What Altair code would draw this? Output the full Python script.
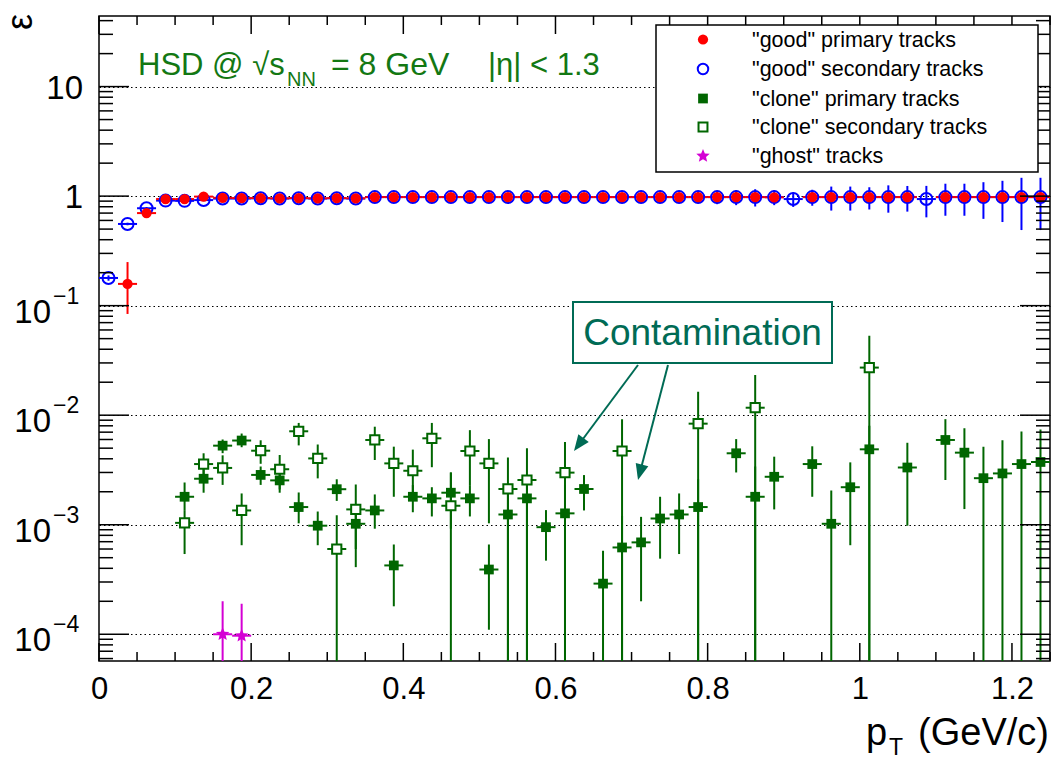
import math
import altair as alt
import pandas as pd

# ---------------- layout ----------------
LEFT, TOP = 99, 16
W, H = 951, 645
RIGHT = 1053 - LEFT - W
BOTTOM = 759 - TOP - H
XMIN, XMAX = 0.0, 1.25
YMIN, YMAX = 5.7e-5, 44.1

FONT = "Liberation Sans"
RED, BLUE, GREEN, MAGENTA = "#ff0000", "#0000ff", "#006600", "#d400d4"
TITLE_GREEN, TEAL = "#137813", "#006b55"

# ---------------- data ----------------
bin_centers = [round(0.0125 + 0.025 * i, 4) for i in range(50)]
half_bin = 0.0125

# "good" primary tracks (red, full circles)
gp_bin = [1, 2, 3, 4, 5, 6, 7, 8, 9, 10, 11, 12, 13, 14, 15, 16, 17, 18, 19, 20, 21, 22, 23, 24,
          25, 26, 27, 28, 29, 30, 31, 32, 33, 34, 35, 37, 38, 39, 40, 41, 42, 44, 45, 46, 47, 48, 49]
gp_val = [0.158, 0.70, 0.94, 0.94, 0.99, 0.965, 0.96, 0.96, 0.955, 0.96, 0.955, 0.96, 0.955, 0.98,
          0.98, 0.98, 0.98, 0.98, 0.98, 0.98, 0.98, 0.98, 0.98, 0.98, 0.98, 0.98, 0.98, 0.98, 0.98,
          0.98, 0.98, 0.98, 0.98, 0.98, 0.975, 0.98, 0.98, 0.98, 0.98, 0.98, 0.98, 0.98, 0.98, 0.98,
          0.98, 0.98, 0.98]
gp_lo = [0.084, 0.66, 0.93, 0.93, 0.98, 0.955, 0.95, 0.95, 0.945, 0.95, 0.945, 0.95, 0.945, 0.97,
         0.97, 0.97, 0.97, 0.97, 0.97, 0.97, 0.97, 0.97, 0.97, 0.97, 0.97, 0.96, 0.96, 0.96, 0.96,
         0.96, 0.95, 0.95, 0.95, 0.95, 0.945, 0.95, 0.95, 0.95, 0.95, 0.94, 0.94, 0.94, 0.94, 0.93,
         0.93, 0.92, 0.92]
gp_hi = [0.25, 0.74, 0.95, 0.95, 1.0, 0.975, 0.97, 0.97, 0.965, 0.97, 0.965, 0.97, 0.965, 0.99,
         0.99, 0.99, 0.99, 0.99, 0.99, 0.99, 0.99, 0.99, 0.99, 0.99, 0.99, 1.0, 1.0, 1.0, 1.0,
         1.0, 1.01, 1.01, 1.01, 1.01, 1.005, 1.01, 1.01, 1.01, 1.01, 1.02, 1.02, 1.02, 1.02, 1.03,
         1.03, 1.04, 1.04]

# "good" secondary tracks (blue, open circles)
gs_bin = list(range(50))
gs_val = [0.179, 0.557, 0.775, 0.91, 0.905, 0.92, 0.95, 0.95, 0.955, 0.95, 0.955, 0.95, 0.955, 0.95,
          0.98, 0.98, 0.98, 0.98, 0.98, 0.98, 0.98, 0.98, 0.98, 0.98, 0.98, 0.98, 0.98, 0.98, 0.98,
          0.98, 0.98, 0.98, 0.98, 0.98, 0.98, 0.98, 0.94, 0.98, 0.98, 0.98, 0.98, 0.98, 0.98, 0.94,
          0.98, 0.98, 0.98, 0.98, 0.98, 0.98]
gs_err = [0.01, 0.015, 0.02, 0.02, 0.02, 0.02, 0.02, 0.02, 0.02, 0.02, 0.02, 0.02, 0.02, 0.02,
          0.02, 0.02, 0.02, 0.025, 0.025, 0.025, 0.03, 0.03, 0.03, 0.035, 0.04, 0.04, 0.05, 0.05,
          0.06, 0.07, 0.09, 0.12, 0.136, 0.153, 0.176, 0.153, 0.143, 0.163, 0.242, 0.242, 0.225,
          0.274, 0.258, 0.30, 0.318, 0.318, 0.36, 0.40, 0.49, 0.49]

# "clone" primary tracks (green, full squares)
cp_bin = [4, 5, 6, 7, 8, 9, 10, 11, 12, 13, 14, 15, 16, 17, 18, 19, 20, 21, 22, 23, 24, 25, 26, 27,
          28, 29, 30, 31, 33, 34, 35, 37, 38, 39, 40, 42, 44, 45, 46, 47, 48, 49]
cp_val = [1.80e-3, 2.63e-3, 5.27e-3, 5.87e-3, 2.85e-3, 2.54e-3, 1.45e-3, 0.98e-3, 2.11e-3, 1.02e-3,
          1.35e-3, 0.425e-3, 1.80e-3, 1.74e-3, 1.96e-3, 1.74e-3, 0.39e-3, 1.24e-3, 1.74e-3, 0.95e-3,
          1.27e-3, 2.12e-3, 0.29e-3, 0.62e-3, 0.69e-3, 1.14e-3, 1.24e-3, 1.45e-3, 4.49e-3, 1.80e-3,
          2.74e-3, 3.58e-3, 1.02e-3, 2.20e-3, 4.88e-3, 3.33e-3, 5.94e-3, 4.55e-3, 2.66e-3, 2.94e-3,
          3.58e-3, 3.74e-3]
cp_lo = [1.36e-3, 1.96e-3, 4.50e-3, 5.10e-3, 2.31e-3, 1.96e-3, 1.03e-3, 0.65e-3, 1.65e-3, 0.60e-3,
         0.92e-3, 0.18e-3, 1.30e-3, 1.19e-3, 0.92e-3, 1.19e-3, 0.11e-3, 0.0, 0.0, 0.47e-3,
         0.0, 1.35e-3, 0.0, 0.0, 0.20e-3, 0.49e-3, 0.54e-3, 0.0, 3.00e-3, 0.0,
         1.38e-3, 1.80e-3, 0.0, 0.65e-3, 0.0, 0.98e-3, 2.56e-3, 1.39e-3, 0.0, 0.0,
         0.0, 0.0]
cp_hi = [2.43e-3, 3.30e-3, 6.00e-3, 6.80e-3, 3.40e-3, 3.10e-3, 1.97e-3, 1.32e-3, 2.60e-3, 1.45e-3,
         1.89e-3, 0.66e-3, 2.30e-3, 2.20e-3, 3.00e-3, 2.30e-3, 0.66e-3, 2.30e-3, 2.50e-3, 1.36e-3,
         2.30e-3, 2.84e-3, 0.58e-3, 1.20e-3, 1.18e-3, 1.80e-3, 1.93e-3, 2.60e-3, 6.05e-3, 3.40e-3,
         4.18e-3, 5.20e-3, 2.05e-3, 3.71e-3, 8.0e-3, 5.60e-3, 9.20e-3, 7.60e-3, 5.16e-3, 5.90e-3,
         7.10e-3, 7.40e-3]

# "clone" secondary tracks (green, open squares)
cs_bin = [4, 5, 6, 7, 8, 9, 10, 11, 12, 13, 14, 15, 16, 17, 18, 19, 20, 21, 22, 24, 27, 31, 34, 40]
cs_val = [1.04e-3, 3.58e-3, 3.30e-3, 1.35e-3, 4.74e-3, 3.21e-3, 7.13e-3, 4.03e-3, 0.60e-3, 1.38e-3,
          5.94e-3, 3.63e-3, 3.11e-3, 6.15e-3, 1.49e-3, 4.71e-3, 3.63e-3, 2.12e-3, 2.56e-3, 2.99e-3,
          4.71e-3, 8.37e-3, 1.17e-2, 2.72e-2]
cs_lo = [0.54e-3, 2.70e-3, 2.31e-3, 0.65e-3, 3.60e-3, 2.10e-3, 5.30e-3, 2.65e-3, 0.0, 0.41e-3,
         3.90e-3, 1.80e-3, 1.80e-3, 3.35e-3, 0.0, 2.30e-3, 1.03e-3, 0.0, 0.0, 0.0,
         0.0, 0.0, 0.0, 0.0]
cs_hi = [1.36e-3, 4.49e-3, 4.30e-3, 1.93e-3, 5.90e-3, 4.33e-3, 8.50e-3, 5.40e-3, 1.22e-3, 2.33e-3,
         7.85e-3, 5.16e-3, 4.85e-3, 8.50e-3, 3.00e-3, 7.30e-3, 6.05e-3, 4.10e-3, 5.00e-3, 5.70e-3,
         9.20e-3, 1.64e-2, 2.33e-2, 5.30e-2]

# "ghost" tracks (magenta stars)
gh_bin = [6, 7]
gh_val = [1.0e-4, 0.97e-4]
gh_lo = [0.0, 0.0]
gh_hi = [2.0e-4, 1.9e-4]

legend_labels = ['"good" primary tracks', '"good" secondary tracks', '"clone" primary tracks',
                 '"clone" secondary tracks', '"ghost" tracks']

x_major = [0.0, 0.2, 0.4, 0.6, 0.8, 1.0, 1.2]
x_minor = [0.05, 0.1, 0.15, 0.25, 0.3, 0.35, 0.45, 0.5, 0.55, 0.65, 0.7, 0.75, 0.85, 0.9, 0.95,
           1.05, 1.1, 1.15, 1.25]
y_major = [1e-4, 1e-3, 1e-2, 1e-1, 1.0, 10.0]
y_minor = [m * 10.0 ** e for e in range(-5, 2) for m in range(2, 10)
           if YMIN < m * 10.0 ** e < YMAX]

# ---------------- helpers ----------------
xs = alt.Scale(domain=[XMIN, XMAX], nice=False, zero=False)
ys = alt.Scale(type="log", domain=[YMIN, YMAX], nice=False)
x_axis = alt.Axis(values=x_major, format="~g", ticks=False, domain=False, grid=False,
                  labelFont=FONT, labelFontSize=31, labelColor="black", labelPadding=13,
                  title=None, labelFlush=False)
y_axis = alt.Axis(values=y_major, ticks=False, domain=False, labels=False, grid=True,
                  gridColor="black", gridDash=[1.5, 3], gridWidth=1.2, title=None)


def X(f):
    return alt.X(f, type="quantitative", scale=xs, axis=x_axis)


def Y(f):
    return alt.Y(f, type="quantitative", scale=ys, axis=y_axis)


def ax(v):
    return v - LEFT


def ay(v):
    return v - TOP


def series_df(bins, val, lo, hi):
    xc = [bin_centers[b] for b in bins]
    return pd.DataFrame({
        "x": xc,
        "xlo": [c - half_bin for c in xc],
        "xhi": [c + half_bin for c in xc],
        "y": val,
        "ylo": [max(v, 1e-7) for v in lo],
        "yhi": hi,
    })


def bars(df, color, width=2.0):
    v = alt.Chart(df).mark_rule(color=color, strokeWidth=width, clip=True).encode(
        x=X("x"), y=Y("ylo"), y2="yhi")
    h = alt.Chart(df).mark_rule(color=color, strokeWidth=width, clip=True).encode(
        x=X("xlo"), x2="xhi", y=Y("y"))
    return [v, h]


star_pts = []
for i in range(10):
    r = 1.0 if i % 2 == 0 else 0.45
    a = math.radians(-90 + 36 * i)
    star_pts.append((r * math.cos(a), r * math.sin(a)))
STAR = "M" + "L".join(f"{px:.3f},{py:.3f}" for px, py in star_pts) + "Z"
ARROW = "M0,-1L-0.65,0.6L0.65,0.6Z"

df_gp = series_df(gp_bin, gp_val, gp_lo, gp_hi)
df_gs = series_df(gs_bin, gs_val, [v - e for v, e in zip(gs_val, gs_err)],
                  [v + e for v, e in zip(gs_val, gs_err)])
df_cp = series_df(cp_bin, cp_val, cp_lo, cp_hi)
df_cs = series_df(cs_bin, cs_val, cs_lo, cs_hi)
df_gh = series_df(gh_bin, gh_val, gh_lo, gh_hi)

layers = []
# error bars
layers += bars(df_cp, GREEN)
layers += bars(df_cs, GREEN)
layers += bars(df_gh, MAGENTA)
layers += bars(df_gs, BLUE)
layers += bars(df_gp, RED)

# markers
layers.append(alt.Chart(df_gs).mark_point(shape="circle", filled=False, color=BLUE, size=144,
                                          strokeWidth=2, opacity=1, clip=True).encode(x=X("x"), y=Y("y")))
layers.append(alt.Chart(df_gp).mark_point(shape="circle", filled=True, color=RED, size=105,
                                          opacity=1, clip=True).encode(x=X("x"), y=Y("y")))
layers.append(alt.Chart(df_cs).mark_point(shape="square", filled=True, fill="white", stroke=GREEN,
                                          strokeWidth=2, size=85, opacity=1, clip=True).encode(x=X("x"), y=Y("y")))
layers.append(alt.Chart(df_cp).mark_point(shape="square", filled=True, color=GREEN, size=95,
                                          opacity=1, clip=True).encode(x=X("x"), y=Y("y")))
layers.append(alt.Chart(df_gh).mark_point(shape=STAR, filled=True, color=MAGENTA, size=200,
                                          opacity=1, clip=True).encode(x=X("x"), y=Y("y")))

# inward ticks (ROOT style) on all four sides
tick_w = 1.5
df_xM = pd.DataFrame({"t": x_major})
df_xm = pd.DataFrame({"t": x_minor})
df_yM = pd.DataFrame({"t": y_major})
df_ym = pd.DataFrame({"t": y_minor})
for dfx, ln in ((df_xM, 18), (df_xm, 9)):
    layers.append(alt.Chart(dfx).mark_rule(color="black", strokeWidth=tick_w).encode(
        x=X("t"), y=alt.value(H), y2=alt.value(H - ln)))
    layers.append(alt.Chart(dfx).mark_rule(color="black", strokeWidth=tick_w).encode(
        x=X("t"), y=alt.value(0), y2=alt.value(ln)))
for dfy, ln in ((df_yM, 30), (df_ym, 14)):
    layers.append(alt.Chart(dfy).mark_rule(color="black", strokeWidth=tick_w).encode(
        y=Y("t"), x=alt.value(0), x2=alt.value(ln)))
    layers.append(alt.Chart(dfy).mark_rule(color="black", strokeWidth=tick_w).encode(
        y=Y("t"), x=alt.value(W), x2=alt.value(W - ln)))

# y labels (10, 1, 10^-n), placed by the y scale
ylab_plain = pd.DataFrame({"t": [10.0, 1.0], "lab": ["10", "1"]})
layers.append(alt.Chart(ylab_plain).mark_text(font=FONT, fontSize=33, align="right",
                                              baseline="middle", dy=2, color="black").encode(
    y=Y("t"), x=alt.value(ax(83)), text="lab:N"))
ylab_pow = pd.DataFrame({"t": [1e-1, 1e-2, 1e-3, 1e-4], "base": ["10"] * 4,
                         "exp": ["\u22121", "\u22122", "\u22123", "\u22124"]})
layers.append(alt.Chart(ylab_pow).mark_text(font=FONT, fontSize=33, align="right",
                                            baseline="middle", dy=7, color="black").encode(
    y=Y("t"), x=alt.value(ax(51)), text="base:N"))
layers.append(alt.Chart(ylab_pow).mark_text(font=FONT, fontSize=23, align="left",
                                            baseline="middle", dy=-9, color="black").encode(
    y=Y("t"), x=alt.value(ax(53)), text="exp:N"))


def text(s, x, y, size, color="black", align="left", baseline="alphabetic", angle=0):
    kw = dict(font=FONT, fontSize=size, color=color, align=align, baseline=baseline)
    if angle:
        kw["angle"] = angle
    return alt.Chart(pd.DataFrame({"s": [s]})).mark_text(**kw).encode(
        x=alt.value(ax(x)), y=alt.value(ay(y)), text="s:N")


def box(x1, y1, x2, y2, stroke, sw):
    return alt.Chart(pd.DataFrame({"a": [0]})).mark_rect(
        fill="white", stroke=stroke, strokeWidth=sw).encode(
        x=alt.value(ax(x1)), x2=alt.value(ax(x2)), y=alt.value(ay(y1)), y2=alt.value(ay(y2)))


# axis titles
layers.append(text("\u03b5", 21, 22, 36, angle=270, align="center", baseline="middle"))
layers.append(text("p", 866, 745, 38))
layers.append(text("T", 889, 755, 23))
layers.append(text("(GeV/c)", 1049, 745, 38, align="right"))

# header text
layers.append(text("HSD @ \u221as", 138, 75, 31, color=TITLE_GREEN))
layers.append(text("NN", 287, 86, 20, color=TITLE_GREEN))
layers.append(text("= 8 GeV", 331, 75, 32, color=TITLE_GREEN))
layers.append(text("|\u03b7| < 1.3", 488, 75, 31, color=TITLE_GREEN))

# legend
layers.append(box(656, 25, 1038, 172, "black", 1.5))
leg_y = [39.5, 69, 98.5, 127, 156]
mx = 703
leg_marks = [
    dict(shape="circle", filled=True, color=RED, size=105),
    dict(shape="circle", filled=False, color=BLUE, size=110, strokeWidth=2),
    dict(shape="square", filled=True, color=GREEN, size=95),
    dict(shape="square", filled=True, fill="white", stroke=GREEN, strokeWidth=2, size=80),
    dict(shape=STAR, filled=True, color=MAGENTA, size=200),
]
for lab, yy, mk in zip(legend_labels, leg_y, leg_marks):
    d = pd.DataFrame({"s": [lab]})
    layers.append(alt.Chart(d).mark_point(opacity=1, **mk).encode(
        x=alt.value(ax(mx)), y=alt.value(ay(yy))))
    layers.append(alt.Chart(d).mark_text(font=FONT, fontSize=21.5, align="left",
                                         baseline="middle", color="black").encode(
        x=alt.value(ax(752)), y=alt.value(ay(yy + 1)), text="s:N"))

# contamination annotation
arrows = [((638, 365), (574, 451)), ((668, 365), (638, 480))]
for (x1, y1), (x2, y2) in arrows:
    dx, dy = x2 - x1, y2 - y1
    L = math.hypot(dx, dy)
    ux, uy = dx / L, dy / L
    ang = math.degrees(math.atan2(ux, -uy)) % 360
    cx, cy = x2 - 10 * ux, y2 - 10 * uy
    d = pd.DataFrame({"a": [0]})
    layers.append(alt.Chart(d).mark_rule(color=TEAL, strokeWidth=2).encode(
        x=alt.value(ax(x1)), y=alt.value(ay(y1)), x2=alt.value(ax(cx)), y2=alt.value(ay(cy))))
    layers.append(alt.Chart(d).mark_point(shape=ARROW, filled=True, color=TEAL, size=400,
                                          opacity=1, angle=ang).encode(
        x=alt.value(ax(cx)), y=alt.value(ay(cy))))
layers.append(box(573, 302, 832, 363, TEAL, 2))
layers.append(text("Contamination", 702.5, 345, 37, color=TEAL, align="center"))

chart = alt.layer(*layers).properties(
    width=W, height=H,
    padding={"left": LEFT, "top": TOP, "right": RIGHT, "bottom": BOTTOM},
    autosize=alt.AutoSizeParams(type="none"),
    background="white",
).configure_view(stroke="black", strokeWidth=1.5)

chart.save("out.html", embed_options={"renderer": "svg", "actions": False})
